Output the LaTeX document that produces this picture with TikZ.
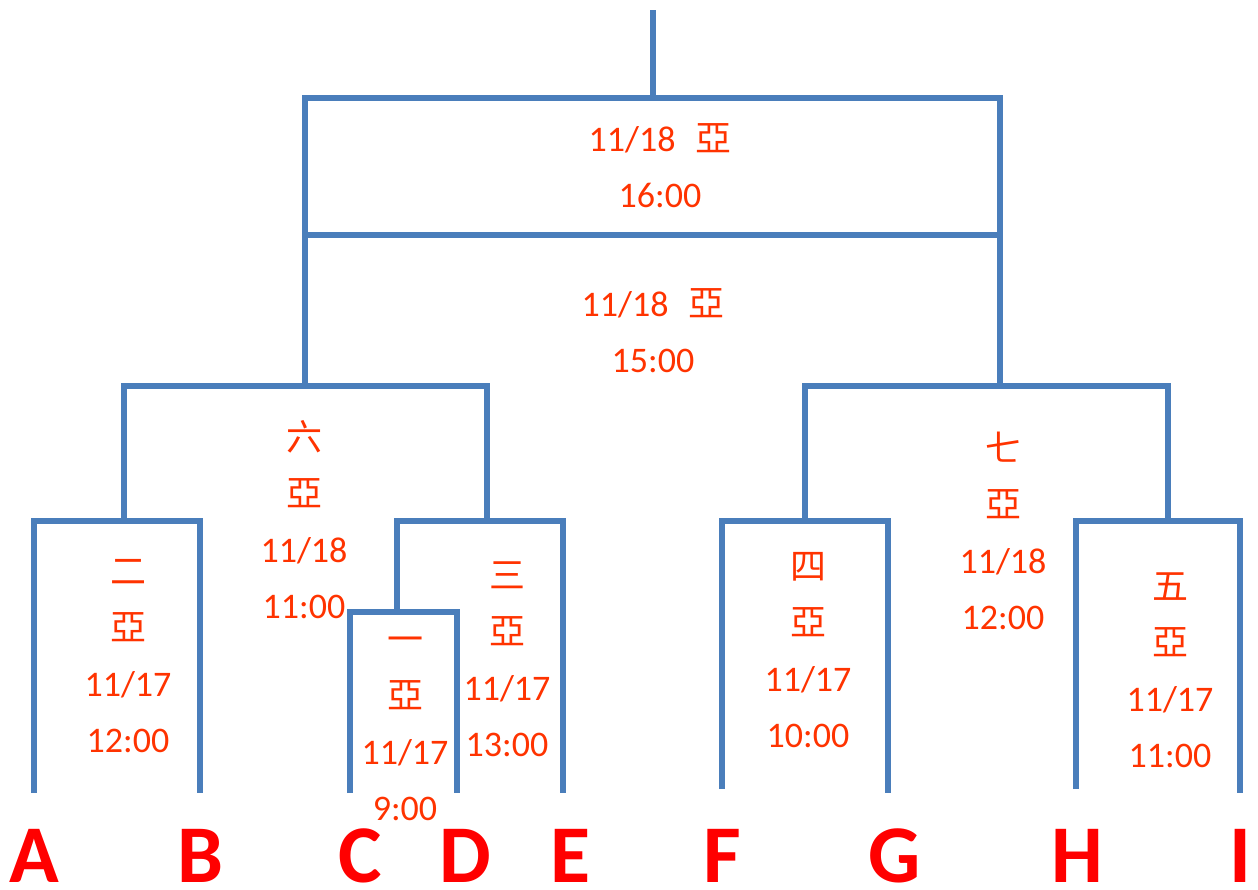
\documentclass[tikz,border=0pt]{standalone}
\usepackage{fontspec}
\setmainfont{Carlito}
\newfontfamily\cjk{Noto Sans CJK TC}
\definecolor{bracketblue}{HTML}{4A7EBB}
\definecolor{timered}{HTML}{FF3300}
\tikzset{
  bracket/.style={draw=bracketblue, line width=6pt, line join=miter},
  game/.style={text=timered, align=center, inner sep=0pt,
    font=\fontsize{36}{56}\selectfont},
  team/.style={text=red, inner sep=0pt, font=\fontsize{82}{82}\selectfont\bfseries},
}
\newcommand{\ya}{{\cjk 亞}}

\begin{document}
\begin{tikzpicture}[x=1pt,y=-1pt]
  \useasboundingbox (0,0) rectangle (1258,889);
  % line ends above the teams
  \coordinate (A) at (34,793);
  \coordinate (B) at (200,793);
  \coordinate (C) at (350,793);
  \coordinate (D) at (457,793);
  \coordinate (E) at (563,793);
  \coordinate (F) at (722,789);
  \coordinate (G) at (888,793);
  \coordinate (H) at (1076,789);
  \coordinate (I) at (1240,793);
  \coordinate (top) at (653,10);
  % first round
  \draw[bracket] (A) |- (200,521) -- (B);
  \draw[bracket] (C) |- (457,612) -- (D);
  \draw[bracket] (F) |- (888,521) -- (G);
  \draw[bracket] (H) |- (1240,521) -- (I);
  \draw[bracket] (397,612) |- (563,521) -- (E);
  % semi finals
  \draw[bracket] (124,521) |- (487,386) -- (487,521);
  \draw[bracket] (805,521) |- (1168,386) -- (1168,521);
  % final and third place
  \draw[bracket] (305,386) |- (1000,98) -- (1000,386);
  \draw[bracket] (305,235) -- (1000,235);
  \draw[bracket] (top) -- (653,98);
  % games
  \node[game] (final) at (660,166) {11/18\hspace{0.55em}\ya\\16:00};
  \node[game] (third) at (653,331) {11/18\hspace{0.55em}\ya\\15:00};
  \node[game] (g6) at (304,520) {{\cjk 六}\\\ya\\11/18\\11:00};
  \node[game] (g7) at (1003,531) {{\cjk 七}\\\ya\\11/18\\12:00};
  \node[game] (g2) at (128,656) {{\cjk 二}\\\ya\\11/17\\12:00};
  \node[game] (g1) at (405,729) {{\cjk 一}\\\ya\\11/17\\9:00};
  \node[game] (g3) at (507,659) {{\cjk 三}\\\ya\\11/17\\13:00};
  \node[game] (g4) at (808,650) {{\cjk 四}\\\ya\\11/17\\10:00};
  \node[game] (g5) at (1170,670) {{\cjk 五}\\\ya\\11/17\\11:00};
  % teams
  \node[team] (tA) at (34,856) {A};
  \node[team] (tB) at (200,856) {B};
  \node[team] (tC) at (360,856) {C};
  \node[team] (tD) at (465,856) {D};
  \node[team] (tE) at (570,856) {E};
  \node[team] (tF) at (722,856) {F};
  \node[team] (tG) at (895,856) {G};
  \node[team] (tH) at (1077,856) {H};
  \node[team] (tI) at (1240,856) {I};
\end{tikzpicture}
\end{document}
